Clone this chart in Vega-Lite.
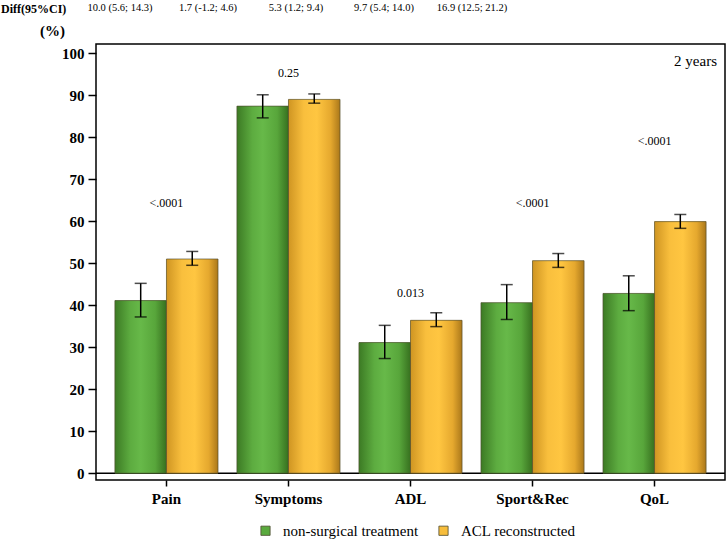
{
  "$schema": "https://vega.github.io/schema/vega-lite/v6.json",
  "width": 629,
  "height": 436,
  "autosize": {"type": "none"},
  "padding": {"left": 96, "top": 44, "right": 2, "bottom": 59},
  "background": "white",
  "config": {
    "font": "Liberation Serif",
    "view": {"stroke": "black", "strokeWidth": 1.5},
    "axis": {"labelFont": "Liberation Serif", "titleFont": "Liberation Serif", "labelColor": "black", "tickColor": "black", "grid": false, "domain": false},
    "legend": {"labelFont": "Liberation Serif"}
  },
  "datasets": {
    "bars": [
      {"cat": "Pain", "grp": "non-surgical treatment", "mean": 41.1, "lo": 37.2, "hi": 45.2},
      {"cat": "Pain", "grp": "ACL reconstructed", "mean": 51.0, "lo": 49.5, "hi": 52.8},
      {"cat": "Symptoms", "grp": "non-surgical treatment", "mean": 87.4, "lo": 84.6, "hi": 90.1},
      {"cat": "Symptoms", "grp": "ACL reconstructed", "mean": 89.0, "lo": 88.1, "hi": 90.3},
      {"cat": "ADL", "grp": "non-surgical treatment", "mean": 31.1, "lo": 27.3, "hi": 35.2},
      {"cat": "ADL", "grp": "ACL reconstructed", "mean": 36.4, "lo": 34.9, "hi": 38.2},
      {"cat": "Sport&Rec", "grp": "non-surgical treatment", "mean": 40.6, "lo": 36.6, "hi": 44.9},
      {"cat": "Sport&Rec", "grp": "ACL reconstructed", "mean": 50.6, "lo": 49.0, "hi": 52.3},
      {"cat": "QoL", "grp": "non-surgical treatment", "mean": 42.8, "lo": 38.7, "hi": 47.0},
      {"cat": "QoL", "grp": "ACL reconstructed", "mean": 59.9, "lo": 58.3, "hi": 61.6}
    ],
    "pvals": [
      {"cat": "Pain", "p": "<.0001", "yv": 64.4},
      {"cat": "Symptoms", "p": "0.25", "yv": 95.2},
      {"cat": "ADL", "p": "0.013", "yv": 42.8},
      {"cat": "Sport&Rec", "p": "<.0001", "yv": 64.4},
      {"cat": "QoL", "p": "<.0001", "yv": 79.2}
    ],
    "diffs": [
      {"slot": 1, "yv": 110.8, "txt": "10.0 (5.6; 14.3)"},
      {"slot": 2, "yv": 110.8, "txt": "1.7 (-1.2; 4.6)"},
      {"slot": 3, "yv": 110.8, "txt": "5.3 (1.2; 9.4)"},
      {"slot": 4, "yv": 110.8, "txt": "9.7 (5.4; 14.0)"},
      {"slot": 5, "yv": 110.8, "txt": "16.9 (12.5; 21.2)"}
    ],
    "headers": [
      {"slot": -0.352, "yv": 110.6, "txt": "Diff(95%CI)"}
    ],
    "panel": [
      {"slot": 7.784, "yv": 98.1, "txt": "2 years"}
    ]
  },
  "layer": [
    {
      "data": {"values": [{"z": 0}]},
      "mark": {"type": "rule", "color": "black", "strokeWidth": 1.5},
      "encoding": {"y": {"field": "z", "type": "quantitative", "scale": {"domain": [-1.62, 102.19], "nice": false, "zero": false}}}
    },
    {
      "layer": [
        {
          "data": {"name": "bars"},
          "mark": {"type": "bar", "opacity": 1},
          "encoding": {
            "x": {"field": "cat", "type": "nominal", "sort": ["Pain", "Symptoms", "ADL", "Sport&Rec", "QoL"], "scale": {"paddingInner": 0.155, "paddingOuter": 0.155},
              "axis": {"title": null, "labelAngle": 0, "labelFontSize": 15, "labelFontWeight": "bold", "tickSize": 6, "tickWidth": 1.5, "labelPadding": 5}},
            "xOffset": {"field": "grp", "type": "nominal", "sort": ["non-surgical treatment", "ACL reconstructed"]},
            "y": {"field": "mean", "type": "quantitative", "scale": {"domain": [-1.62, 102.19], "nice": false, "zero": false},
              "axis": {"values": [0, 10, 20, 30, 40, 50, 60, 70, 80, 90, 100], "labelFontSize": 15, "labelFontWeight": "bold", "tickSize": 8, "tickWidth": 1.5, "labelPadding": 4,
                "title": "(%)", "titleAngle": 0, "titleFontSize": 15, "titleFontWeight": "bold", "titleX": -44, "titleY": -14, "titleAlign": "center", "titleBaseline": "middle", "titleColor": "black"}},
            "color": {"field": "grp", "type": "nominal", "sort": ["non-surgical treatment", "ACL reconstructed"],
              "scale": {"domain": ["non-surgical treatment", "ACL reconstructed"], "range": ["#5aaa3e", "#f7bd3b"]},
              "legend": {"title": null, "orient": "none", "legendX": 162, "legendY": 479, "direction": "horizontal", "labelFontSize": 15, "labelColor": "black", "symbolType": "square", "symbolSize": 85, "symbolOpacity": 1, "symbolStrokeColor": "#4d4a30", "symbolStrokeWidth": 0.8, "columnPadding": 17, "labelOffset": 10}}
          }
        },
        {
          "data": {"name": "bars"},
          "mark": {"type": "bar", "stroke": "#4d4a30", "strokeWidth": 0.8, "strokeOpacity": 0.8},
          "encoding": {
            "x": {"field": "cat", "type": "nominal", "sort": ["Pain", "Symptoms", "ADL", "Sport&Rec", "QoL"]},
            "xOffset": {"field": "grp", "type": "nominal", "sort": ["non-surgical treatment", "ACL reconstructed"]},
            "y": {"field": "mean", "type": "quantitative"},
            "fill": {
              "condition": {"test": "datum.grp === 'ACL reconstructed'", "value": {"gradient": "linear", "x1": 0, "y1": 0, "x2": 1, "y2": 0, "stops": [
                  {"offset": 0, "color": "#cf9522"}, {"offset": 0.3, "color": "#f9bf3d"}, {"offset": 0.55, "color": "#ffc641"}, {"offset": 0.82, "color": "#e5a82e"}, {"offset": 1, "color": "#ab781a"}]}},
              "value": {"gradient": "linear", "x1": 0, "y1": 0, "x2": 1, "y2": 0, "stops": [
                  {"offset": 0, "color": "#3c7a24"}, {"offset": 0.3, "color": "#5dac40"}, {"offset": 0.5, "color": "#67b949"}, {"offset": 0.78, "color": "#58a63b"}, {"offset": 1, "color": "#37701f"}]}
            }
          }
        },
        {
          "data": {"name": "bars"},
          "mark": {"type": "rule", "color": "black", "strokeWidth": 1.5},
          "encoding": {
            "x": {"field": "cat", "type": "nominal", "sort": ["Pain", "Symptoms", "ADL", "Sport&Rec", "QoL"]},
            "xOffset": {"field": "grp", "type": "nominal", "sort": ["non-surgical treatment", "ACL reconstructed"]},
            "y": {"field": "lo", "type": "quantitative"},
            "y2": {"field": "hi"}
          }
        },
        {
          "data": {"name": "bars"},
          "mark": {"type": "tick", "color": "black", "thickness": 1.5, "size": 12, "orient": "horizontal"},
          "encoding": {
            "x": {"field": "cat", "type": "nominal", "sort": ["Pain", "Symptoms", "ADL", "Sport&Rec", "QoL"]},
            "xOffset": {"field": "grp", "type": "nominal", "sort": ["non-surgical treatment", "ACL reconstructed"]},
            "y": {"field": "lo", "type": "quantitative"}
          }
        },
        {
          "data": {"name": "bars"},
          "mark": {"type": "tick", "color": "black", "thickness": 1.5, "size": 12, "orient": "horizontal"},
          "encoding": {
            "x": {"field": "cat", "type": "nominal", "sort": ["Pain", "Symptoms", "ADL", "Sport&Rec", "QoL"]},
            "xOffset": {"field": "grp", "type": "nominal", "sort": ["non-surgical treatment", "ACL reconstructed"]},
            "y": {"field": "hi", "type": "quantitative"}
          }
        },
        {
          "data": {"name": "pvals"},
          "mark": {"type": "text", "fontSize": 12, "color": "black", "baseline": "middle", "align": "center"},
          "encoding": {
            "x": {"field": "cat", "type": "nominal", "sort": ["Pain", "Symptoms", "ADL", "Sport&Rec", "QoL"]},
            "y": {"field": "yv", "type": "quantitative"},
            "text": {"field": "p"}
          }
        }
      ]
    },
    {
      "data": {"name": "diffs"},
      "mark": {"type": "text", "fontSize": 10.5, "color": "black", "baseline": "middle", "align": "center"},
      "encoding": {
        "x": {"field": "slot", "type": "quantitative", "scale": {"domain": [0.7273, 7.875], "nice": false, "zero": false}, "axis": null},
        "y": {"field": "yv", "type": "quantitative", "scale": {"domain": [-1.62, 102.19], "nice": false, "zero": false}},
        "text": {"field": "txt"}
      }
    },
    {
      "data": {"name": "headers"},
      "mark": {"type": "text", "fontSize": 12, "fontWeight": "bold", "color": "black", "baseline": "middle", "align": "left"},
      "encoding": {
        "x": {"field": "slot", "type": "quantitative", "scale": {"domain": [0.7273, 7.875], "nice": false, "zero": false}, "axis": null},
        "y": {"field": "yv", "type": "quantitative", "scale": {"domain": [-1.62, 102.19], "nice": false, "zero": false}},
        "text": {"field": "txt"}
      }
    },
    {
      "data": {"name": "panel"},
      "mark": {"type": "text", "fontSize": 15, "color": "black", "baseline": "middle", "align": "right"},
      "encoding": {
        "x": {"field": "slot", "type": "quantitative", "scale": {"domain": [0.7273, 7.875], "nice": false, "zero": false}, "axis": null},
        "y": {"field": "yv", "type": "quantitative", "scale": {"domain": [-1.62, 102.19], "nice": false, "zero": false}},
        "text": {"field": "txt"}
      }
    }
  ],
  "resolve": {"scale": {"x": "independent"}}
}
